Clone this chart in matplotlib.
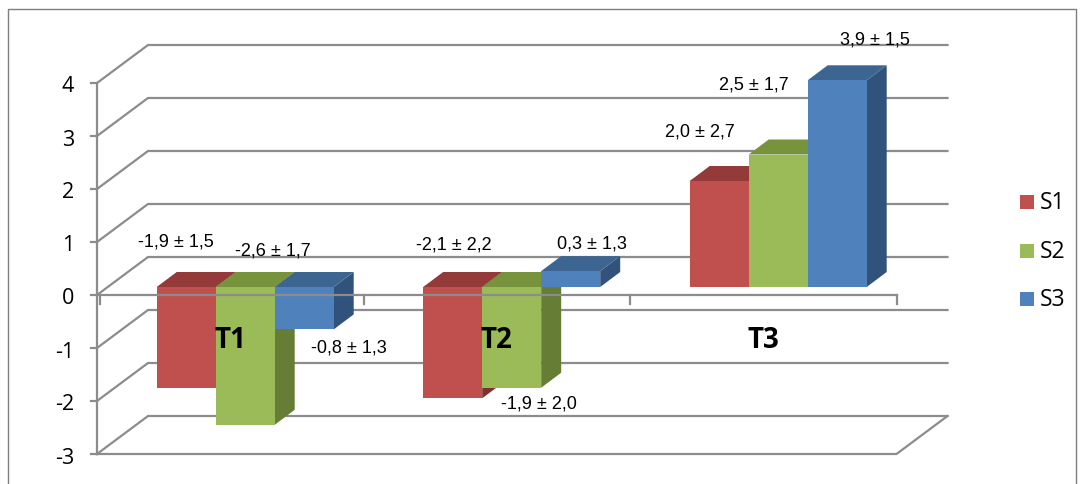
import matplotlib
matplotlib.use("Agg")
import matplotlib.pyplot as plt
from matplotlib.patches import Polygon, Rectangle

# data
categories = ["T1", "T2", "T3"]
series = ["S1", "S2", "S3"]
means = [[-1.9, -2.1, 2.0],   # S1
         [-2.6, -1.9, 2.5],   # S2
         [-0.8, 0.3, 3.9]]    # S3
sds = [[1.5, 2.2, 2.7],
       [1.7, 2.0, 1.7],
       [1.3, 1.3, 1.5]]
yticks = [-3, -2, -1, 0, 1, 2, 3, 4]

front_cols = ["#C0504D", "#9BBB59", "#4F81BD"]
top_cols = ["#943B39", "#77933C", "#3C6591"]
side_cols = ["#7F2F2D", "#657D35", "#31527A"]
grid_col = "#8C8C8C"

W, H = 1084, 485
X0, Y0, CW, VU = 97, 296, 266.5, 53.0   # pixel origin, category width, px per unit


def X(px):
    return (px - X0) / CW


def V(py):
    return (Y0 - py) / VU


WDX, WDY = 51 / CW, 38 / VU        # wall depth
BDX, BDY = 20 / CW, 15 / VU        # bar depth
BW = 59 / CW                       # bar width
BOFF, BBASE = 0.224, 8 / VU        # bar offset in category, base lift

# label positions (pixel centres), per series / category
lab_pos = [[(176, 242), (454, 245), (700, 132)],
           [(273, 251), (539, 404), (754, 85)],
           [(349, 348), (592, 244), (875, 40)]]

fig = plt.figure(figsize=(W / 100, H / 100), dpi=100)
ax = fig.add_axes([0, 0, 1, 1])
ax.set_xlim(X(0), X(W))
ax.set_ylim(V(H), V(0))
ax.axis("off")

# chart border
ax.plot([X(8), X(8), X(1076), X(1076)], [V(490), V(10), V(10), V(490)],
        color="#7F7F7F", lw=1.0, zorder=0, clip_on=False)

lo, hi = min(yticks), max(yticks)
ncat = len(categories)
# left wall gridlines + back wall gridlines
for t in yticks:
    ax.plot([0, WDX, ncat + WDX], [t, t + WDY, t + WDY], color=grid_col, lw=1.6, zorder=1,
            solid_joinstyle="miter")
    ax.plot([-6 / CW, 0], [t, t], color=grid_col, lw=1.6, zorder=1)
    ax.text(X(74), t - 3 / VU, str(t), ha="right", va="center", fontsize=15.5,
            family="Open Sans", color="black")
ax.plot([0, 0], [lo, hi], color=grid_col, lw=1.6, zorder=1)
# floor front edge
ax.plot([0, ncat, ncat + WDX], [lo, lo, lo + WDY], color=grid_col, lw=1.6, zorder=1)

# bars
for c in range(ncat):
    for s in range(len(series)):
        v = means[s][c]
        x0 = c + BOFF + s * BW
        y0 = BBASE
        ytop = y0 + max(v, 0)
        ybot = y0 + min(v, 0)
        z = 2 + c * 3 + s
        side = Polygon([(x0 + BW, ybot), (x0 + BW + BDX, ybot + BDY),
                        (x0 + BW + BDX, ytop + BDY), (x0 + BW, ytop)],
                       closed=True, fc=side_cols[s], ec="none", zorder=z)
        top = Polygon([(x0, ytop), (x0 + BDX, ytop + BDY),
                       (x0 + BW + BDX, ytop + BDY), (x0 + BW, ytop)],
                      closed=True, fc=top_cols[s], ec="none", zorder=z)
        front = Rectangle((x0, ybot), BW, ytop - ybot, fc=front_cols[s], ec="none", zorder=z)
        ax.add_patch(side)
        ax.add_patch(top)
        ax.add_patch(front)
        px, py = lab_pos[s][c]
        ax.text(X(px), V(py), f"{v:.1f} ± {sds[s][c]:.1f}".replace(".", ","),
                ha="center", va="center", fontsize=13, family="Liberation Sans",
                color="black", zorder=30)

# zero axis line with category ticks
ax.plot([0, ncat], [0, 0], color=grid_col, lw=1.6, zorder=20)
for c in range(ncat + 1):
    ax.plot([c + (3 / CW if c == 0 else 0)] * 2, [0, -9 / VU], color=grid_col, lw=1.6, zorder=20)

for c, name in enumerate(categories):
    ax.text(c + 0.5, V(340), name, ha="center", va="center", fontsize=20,
            fontweight="bold", family="Open Sans", color="black", zorder=30)

# legend
for s, name in enumerate(series):
    cy = 203 + s * 48.5
    ax.add_patch(Rectangle((X(1020), V(cy + 7)), 14 / CW, 14 / VU, fc=front_cols[s],
                           ec="none", zorder=30))
    ax.text(X(1040), V(cy), name, ha="left", va="center", fontsize=16.5,
            family="Open Sans", color="black", zorder=30)

fig.savefig("out.png", dpi=100)
